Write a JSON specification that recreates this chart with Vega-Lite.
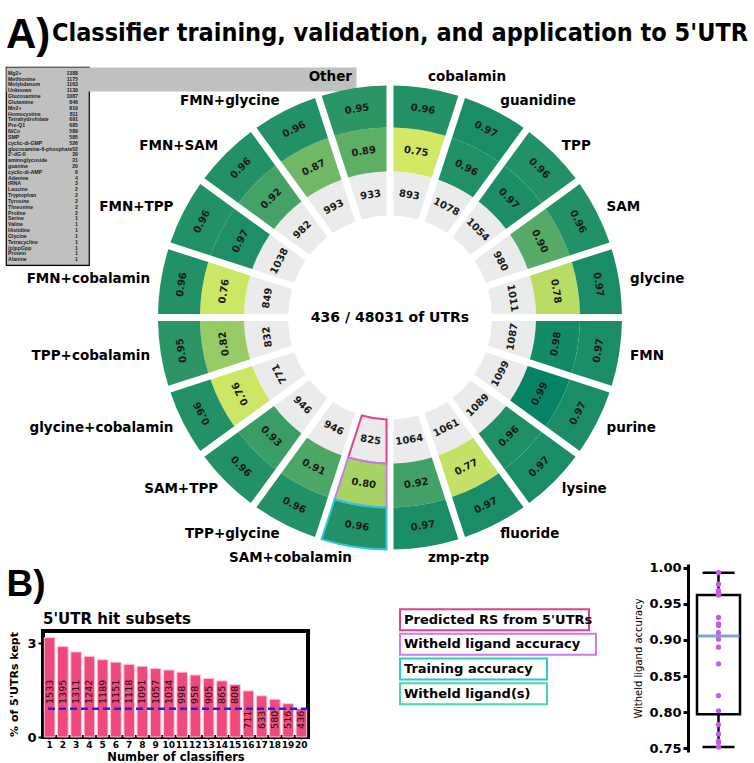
{
  "$schema": "https://vega.github.io/schema/vega-lite/v6.json",
  "padding": {"left": 5, "top": 13, "right": 5, "bottom": 5},
  "spacing": -7,
  "align": "none",
  "config": {
    "view": {"stroke": null},
    "font": "DejaVu Sans",
    "axis": {"labelColor": "black", "titleColor": "black", "tickColor": "black", "domainColor": "black"},
    "axisY": {"labelOverlap": false}
  },
  "datasets": {
    "rs": [
      {"i": 0, "name": "cobalamin", "train": 0.96, "held": 0.752, "rs": 893},
      {"i": 1, "name": "guanidine", "train": 0.97, "held": 0.962, "rs": 1078},
      {"i": 2, "name": "TPP", "train": 0.96, "held": 0.968, "rs": 1054},
      {"i": 3, "name": "SAM", "train": 0.96, "held": 0.901, "rs": 980},
      {"i": 4, "name": "glycine", "train": 0.97, "held": 0.783, "rs": 1011},
      {"i": 5, "name": "FMN", "train": 0.97, "held": 0.977, "rs": 1087},
      {"i": 6, "name": "purine", "train": 0.97, "held": 0.993, "rs": 1099},
      {"i": 7, "name": "lysine", "train": 0.97, "held": 0.963, "rs": 1089},
      {"i": 8, "name": "fluoride", "train": 0.97, "held": 0.770, "rs": 1061},
      {"i": 9, "name": "zmp-ztp", "train": 0.97, "held": 0.922, "rs": 1064},
      {"i": 10, "name": "SAM+cobalamin", "train": 0.96, "held": 0.802, "rs": 825},
      {"i": 11, "name": "TPP+glycine", "train": 0.96, "held": 0.910, "rs": 946},
      {"i": 12, "name": "SAM+TPP", "train": 0.96, "held": 0.931, "rs": 946},
      {"i": 13, "name": "glycine+cobalamin", "train": 0.96, "held": 0.758, "rs": 771},
      {"i": 14, "name": "TPP+cobalamin", "train": 0.95, "held": 0.823, "rs": 832},
      {"i": 15, "name": "FMN+cobalamin", "train": 0.96, "held": 0.760, "rs": 849},
      {"i": 16, "name": "FMN+TPP", "train": 0.96, "held": 0.966, "rs": 1038},
      {"i": 17, "name": "FMN+SAM", "train": 0.96, "held": 0.920, "rs": 982},
      {"i": 18, "name": "FMN+glycine", "train": 0.96, "held": 0.867, "rs": 993},
      {"i": 19, "name": "Other", "train": 0.95, "held": 0.890, "rs": 933}
    ],
    "other": [
      {"name": "Mg2+", "n": 1388}, {"name": "Methionine", "n": 1175}, {"name": "Molybdenum", "n": 1163},
      {"name": "Unknown", "n": 1130}, {"name": "Glucosamine", "n": 1087}, {"name": "Glutamine", "n": 846},
      {"name": "Mn2+", "n": 819}, {"name": "Homocystine", "n": 811}, {"name": "Tetrahydrofolate", "n": 691},
      {"name": "Pre-Q1", "n": 685}, {"name": "NiCo", "n": 589}, {"name": "SMP", "n": 585},
      {"name": "cyclic-di-GMP", "n": 526}, {"name": "glucosamine-6-phosphate", "n": 52}, {"name": "2'-dG-II", "n": 30},
      {"name": "aminoglycoside", "n": 21}, {"name": "guanine", "n": 20}, {"name": "cyclic-di-AMP", "n": 6},
      {"name": "Adenine", "n": 4}, {"name": "tRNA", "n": 3}, {"name": "Leucine", "n": 2},
      {"name": "Tryptophan", "n": 2}, {"name": "Tyrosine", "n": 2}, {"name": "Threonine", "n": 2},
      {"name": "Proline", "n": 2}, {"name": "Serine", "n": 1}, {"name": "Valine", "n": 1},
      {"name": "Histidine", "n": 1}, {"name": "Glycine", "n": 1}, {"name": "Tetracycline", "n": 1},
      {"name": "(p)ppGpp", "n": 1}, {"name": "Protein", "n": 1}, {"name": "Alanine", "n": 1}
    ],
    "hits": [
      {"k": 1, "pct": 3.19, "count": 1533}, {"k": 2, "pct": 2.90, "count": 1395}, {"k": 3, "pct": 2.73, "count": 1311},
      {"k": 4, "pct": 2.59, "count": 1242}, {"k": 5, "pct": 2.48, "count": 1189}, {"k": 6, "pct": 2.40, "count": 1151},
      {"k": 7, "pct": 2.33, "count": 1118}, {"k": 8, "pct": 2.27, "count": 1091}, {"k": 9, "pct": 2.20, "count": 1057},
      {"k": 10, "pct": 2.15, "count": 1034}, {"k": 11, "pct": 2.08, "count": 998}, {"k": 12, "pct": 1.99, "count": 958},
      {"k": 13, "pct": 1.88, "count": 905}, {"k": 14, "pct": 1.80, "count": 865}, {"k": 15, "pct": 1.68, "count": 808},
      {"k": 16, "pct": 1.48, "count": 711}, {"k": 17, "pct": 1.32, "count": 633}, {"k": 18, "pct": 1.21, "count": 580},
      {"k": 19, "pct": 1.07, "count": 516}, {"k": 20, "pct": 0.91, "count": 436}
    ],
    "legend": [
      {"label": "Predicted RS from 5'UTRs"},
      {"label": "Witheld ligand accuracy"},
      {"label": "Training accuracy"},
      {"label": "Witheld ligand(s)"}
    ],
    "summary": [{"label": "436 / 48031 of UTRs"}],
    "panelB": [{"label": "B)"}]
  },
  "vconcat": [
    {
      "bounds": "flush",
      "spacing": 0,
      "hconcat": [
        {
          "data": {"name": "other"},
          "width": 83,
          "height": 198,
          "view": {"fill": "#c0c0c0", "stroke": "black", "strokeWidth": 1.2},
          "title": {"text": "A)", "anchor": "start", "frame": "group", "fontSize": 42, "font": "Liberation Sans", "fontWeight": "bold", "baseline": "alphabetic", "offset": 22, "dy": 45, "color": "black"},
          "layer": [
            {
              "mark": {"type": "text", "text": ""},
              "encoding": {
                "x": {"datum": 0, "type": "quantitative", "scale": {"domain": [0, 1], "range": [0, 350]},
                  "axis": {"orient": "top", "offset": -12, "domainWidth": 24, "domainColor": "#c0c0c0", "domainCap": "butt", "ticks": false, "labels": false, "grid": false, "title": null}}
              }
            },
            {
              "mark": {"type": "text", "align": "left", "baseline": "middle", "dx": -39.5, "fontSize": 5.2, "font": "Liberation Sans", "fontWeight": "bold", "color": "#222"},
              "encoding": {
                "y": {"field": "name", "type": "nominal", "sort": null, "axis": null, "scale": {"type": "point", "padding": 1}},
                "text": {"field": "name"}
              }
            },
            {
              "mark": {"type": "text", "align": "right", "baseline": "middle", "dx": 30.5, "fontSize": 5.2, "font": "Liberation Sans", "fontWeight": "bold", "color": "#222"},
              "encoding": {
                "y": {"field": "name", "type": "nominal", "sort": null, "axis": null, "scale": {"type": "point", "padding": 1}},
                "text": {"field": "n"}
              }
            }
          ]
        },
        {
          "data": {"name": "rs"},
          "width": 602,
          "height": 501,
          "title": {"text": "Classifier training, validation, and application to 5'UTR", "anchor": "middle", "frame": "group", "fontSize": 25, "font": "Liberation Sans Narrow, DejaVu Sans Condensed, Liberation Sans", "fontWeight": "bold", "baseline": "alphabetic", "offset": 1, "dx": 10, "color": "black"},
          "resolve": {"scale": {"angle": "independent"}},
          "layer": [
            {
              "mark": {"type": "arc", "radius": 146, "radius2": 102, "padAngle": 0.0393, "fill": "#ebebeb"},
              "encoding": {
                "theta": {"aggregate": "count", "type": "quantitative", "stack": true},
                "order": {"field": "i", "type": "quantitative"},
                "detail": [{"field": "name", "type": "nominal"}, {"field": "rs", "type": "quantitative"}, {"field": "held", "type": "quantitative"}, {"field": "train", "type": "quantitative"}]
              }
            },
            {
              "mark": {"type": "arc", "radius": 190, "radius2": 146, "padAngle": 0.0292},
              "encoding": {
                "theta": {"aggregate": "count", "type": "quantitative", "stack": true},
                "order": {"field": "i", "type": "quantitative"},
                "detail": [{"field": "name", "type": "nominal"}, {"field": "rs", "type": "quantitative"}, {"field": "train", "type": "quantitative"}],
                "color": {"field": "held", "type": "quantitative", "scale": {"domain": [0.7, 1.0], "range": ["#ffff66", "#008066"], "interpolate": "rgb"}, "legend": null}
              }
            },
            {
              "mark": {"type": "arc", "radius": 232, "radius2": 190, "padAngle": 0.0233},
              "encoding": {
                "theta": {"aggregate": "count", "type": "quantitative", "stack": true},
                "order": {"field": "i", "type": "quantitative"},
                "detail": [{"field": "name", "type": "nominal"}, {"field": "rs", "type": "quantitative"}, {"field": "held", "type": "quantitative"}],
                "color": {"field": "train", "type": "quantitative", "scale": {"domain": [0.7, 1.0], "range": ["#ffff66", "#008066"], "interpolate": "rgb"}, "legend": null}
              }
            },
            {
              "mark": {"type": "arc", "radius": 146, "radius2": 102, "padAngle": 0.0393, "fillOpacity": 0, "stroke": "#e8418a", "strokeWidth": 2},
              "encoding": {
                "theta": {"aggregate": "count", "type": "quantitative", "stack": true},
                "order": {"field": "i", "type": "quantitative"},
                "detail": [{"field": "name", "type": "nominal"}],
                "strokeOpacity": {"condition": {"test": "datum.i === 10", "value": 1}, "value": 0}
              }
            },
            {
              "mark": {"type": "arc", "radius": 190, "radius2": 146, "padAngle": 0.0292, "fillOpacity": 0, "stroke": "#c77de8", "strokeWidth": 2},
              "encoding": {
                "theta": {"aggregate": "count", "type": "quantitative", "stack": true},
                "order": {"field": "i", "type": "quantitative"},
                "detail": [{"field": "name", "type": "nominal"}],
                "strokeOpacity": {"condition": {"test": "datum.i === 10", "value": 1}, "value": 0}
              }
            },
            {
              "mark": {"type": "arc", "radius": 232, "radius2": 190, "padAngle": 0.0233, "fillOpacity": 0, "stroke": "#2ec9da", "strokeWidth": 2},
              "encoding": {
                "theta": {"aggregate": "count", "type": "quantitative", "stack": true},
                "order": {"field": "i", "type": "quantitative"},
                "detail": [{"field": "name", "type": "nominal"}],
                "strokeOpacity": {"condition": {"test": "datum.i === 10", "value": 1}, "value": 0}
              }
            },
            {
              "mark": {"type": "text", "radius": 124, "fontSize": 10, "fontWeight": "bold", "color": "#1a1a1a", "baseline": "middle", "align": "center"},
              "encoding": {
                "theta": {"aggregate": "count", "type": "quantitative", "stack": true},
                "order": {"field": "i", "type": "quantitative"},
                "detail": [{"field": "name", "type": "nominal"}, {"field": "rs", "type": "quantitative"}],
                "angle": {"field": "i", "type": "quantitative", "scale": {"domain": [-0.5, 19.5], "range": [0, 360]}, "legend": null},
                "text": {"condition": {"test": "datum.i < 5 || datum.i > 12", "field": "rs", "type": "quantitative"}, "value": ""}
              }
            },
            {
              "mark": {"type": "text", "radius": 124, "fontSize": 10, "fontWeight": "bold", "color": "#1a1a1a", "baseline": "middle", "align": "center"},
              "encoding": {
                "theta": {"aggregate": "count", "type": "quantitative", "stack": true},
                "order": {"field": "i", "type": "quantitative"},
                "detail": [{"field": "name", "type": "nominal"}, {"field": "rs", "type": "quantitative"}],
                "angle": {"field": "i", "type": "quantitative", "scale": {"domain": [-0.5, 19.5], "range": [-180, 180]}, "legend": null},
                "text": {"condition": {"test": "datum.i >= 5 && datum.i <= 12", "field": "rs", "type": "quantitative"}, "value": ""}
              }
            },
            {
              "mark": {"type": "text", "radius": 168, "fontSize": 10, "fontWeight": "bold", "color": "#1a1a1a", "baseline": "middle", "align": "center"},
              "encoding": {
                "theta": {"aggregate": "count", "type": "quantitative", "stack": true},
                "order": {"field": "i", "type": "quantitative"},
                "detail": [{"field": "name", "type": "nominal"}, {"field": "held", "type": "quantitative"}],
                "angle": {"field": "i", "type": "quantitative", "scale": {"domain": [-0.5, 19.5], "range": [0, 360]}, "legend": null},
                "text": {"condition": {"test": "datum.i < 5 || datum.i > 12", "field": "held", "type": "quantitative", "format": ".2f"}, "value": ""}
              }
            },
            {
              "mark": {"type": "text", "radius": 168, "fontSize": 10, "fontWeight": "bold", "color": "#1a1a1a", "baseline": "middle", "align": "center"},
              "encoding": {
                "theta": {"aggregate": "count", "type": "quantitative", "stack": true},
                "order": {"field": "i", "type": "quantitative"},
                "detail": [{"field": "name", "type": "nominal"}, {"field": "held", "type": "quantitative"}],
                "angle": {"field": "i", "type": "quantitative", "scale": {"domain": [-0.5, 19.5], "range": [-180, 180]}, "legend": null},
                "text": {"condition": {"test": "datum.i >= 5 && datum.i <= 12", "field": "held", "type": "quantitative", "format": ".2f"}, "value": ""}
              }
            },
            {
              "mark": {"type": "text", "radius": 211, "fontSize": 10, "fontWeight": "bold", "color": "#1a1a1a", "baseline": "middle", "align": "center"},
              "encoding": {
                "theta": {"aggregate": "count", "type": "quantitative", "stack": true},
                "order": {"field": "i", "type": "quantitative"},
                "detail": [{"field": "name", "type": "nominal"}, {"field": "train", "type": "quantitative"}],
                "angle": {"field": "i", "type": "quantitative", "scale": {"domain": [-0.5, 19.5], "range": [0, 360]}, "legend": null},
                "text": {"condition": {"test": "datum.i < 5 || datum.i > 12", "field": "train", "type": "quantitative", "format": ".2f"}, "value": ""}
              }
            },
            {
              "mark": {"type": "text", "radius": 211, "fontSize": 10, "fontWeight": "bold", "color": "#1a1a1a", "baseline": "middle", "align": "center"},
              "encoding": {
                "theta": {"aggregate": "count", "type": "quantitative", "stack": true},
                "order": {"field": "i", "type": "quantitative"},
                "detail": [{"field": "name", "type": "nominal"}, {"field": "train", "type": "quantitative"}],
                "angle": {"field": "i", "type": "quantitative", "scale": {"domain": [-0.5, 19.5], "range": [-180, 180]}, "legend": null},
                "text": {"condition": {"test": "datum.i >= 5 && datum.i <= 12", "field": "train", "type": "quantitative", "format": ".2f"}, "value": ""}
              }
            },
            {
              "mark": {"type": "text", "radius": 243, "fontSize": 13.5, "fontWeight": "bold", "color": "black", "baseline": "middle", "align": "left"},
              "encoding": {
                "theta": {"aggregate": "count", "type": "quantitative", "stack": true},
                "order": {"field": "i", "type": "quantitative"},
                "detail": [{"field": "name", "type": "nominal"}],
                "text": {"condition": {"test": "datum.i < 10", "field": "name", "type": "nominal"}, "value": ""}
              }
            },
            {
              "mark": {"type": "text", "radius": 243, "fontSize": 13.5, "fontWeight": "bold", "color": "black", "baseline": "middle", "align": "right"},
              "encoding": {
                "theta": {"aggregate": "count", "type": "quantitative", "stack": true},
                "order": {"field": "i", "type": "quantitative"},
                "detail": [{"field": "name", "type": "nominal"}],
                "text": {"condition": {"test": "datum.i >= 10", "field": "name", "type": "nominal"}, "value": ""}
              }
            },
            {
              "data": {"name": "summary"},
              "mark": {"type": "text", "fontSize": 14, "fontWeight": "bold", "color": "black", "baseline": "middle", "align": "center"},
              "encoding": {"text": {"field": "label"}}
            }
          ]
        }
      ]
    },
    {
      "spacing": 33,
      "hconcat": [
        {
          "spacing": 4,
          "vconcat": [
            {
              "data": {"name": "panelB"},
              "width": 1,
              "height": 42,
              "mark": {"type": "text", "align": "left", "baseline": "middle", "fontSize": 37, "font": "Liberation Sans", "fontWeight": "bold", "color": "black"},
              "encoding": {"text": {"field": "label"}}
            },
            {
              "spacing": -1,
              "hconcat": [
                {
                  "data": {"name": "panelB"},
                  "width": 1,
                  "height": 1,
                  "mark": {"type": "text", "text": ""}
                },
                {
                  "data": {"name": "hits"},
                  "width": 265,
                  "height": 106,
                  "view": {"stroke": "black", "strokeWidth": 4},
                  "title": {"text": "5'UTR hit subsets", "anchor": "start", "frame": "group", "fontSize": 15, "fontWeight": "bold", "color": "black", "offset": 4},
                  "layer": [
                    {
                      "mark": {"type": "bar", "color": "#ef4a7b", "stroke": "#ffc9d6", "strokeWidth": 1},
                      "encoding": {
                        "x": {"field": "k", "type": "ordinal", "scale": {"paddingInner": 0.2, "paddingOuter": 0.1},
                          "axis": {"title": "Number of classifiers", "labelAngle": 0, "labelFontSize": 9, "labelFontWeight": "bold", "titleFontSize": 11.5, "titleFontWeight": "bold", "domain": false, "tickSize": 2, "tickWidth": 1.5, "labelPadding": 1, "titlePadding": 2}},
                        "y": {"field": "pct", "type": "quantitative", "scale": {"domain": [0, 3.4], "nice": false},
                          "axis": {"values": [0, 1, 2, 3], "labelOverlap": false, "title": "% of 5'UTRs kept", "labelFontSize": 13, "labelFontWeight": "bold", "titleFontSize": 11, "titleFontWeight": "bold", "domain": false, "grid": false, "tickSize": 5, "tickWidth": 2, "labelPadding": 2, "titlePadding": 7}}
                      }
                    },
                    {
                      "mark": {"type": "rule", "color": "#1428e6", "strokeDash": [7, 4], "strokeWidth": 2.5},
                      "encoding": {"y": {"aggregate": "min", "field": "pct", "type": "quantitative"}}
                    },
                    {
                      "transform": [{"filter": "datum.pct >= 1.6"}],
                      "mark": {"type": "text", "angle": 270, "align": "left", "baseline": "middle", "fontSize": 9.5, "color": "#111"},
                      "encoding": {
                        "x": {"field": "k", "type": "ordinal"},
                        "y": {"datum": 1.06},
                        "text": {"field": "count"}
                      }
                    },
                    {
                      "transform": [{"filter": "datum.pct < 1.6"}],
                      "mark": {"type": "text", "angle": 270, "align": "left", "baseline": "middle", "fontSize": 9.5, "color": "#111"},
                      "encoding": {
                        "x": {"field": "k", "type": "ordinal"},
                        "y": {"datum": 0.26},
                        "text": {"field": "count"}
                      }
                    }
                  ]
                }
              ]
            }
          ]
        },
        {
          "data": {"name": "legend"},
          "width": 110,
          "height": 136,
          "view": {"fill": "transparent"},
          "layer": [
            {
              "mark": {"type": "point", "filled": true, "fill": "white", "size": 10000, "strokeWidth": 2, "opacity": 1},
              "encoding": {
                "y": {"field": "label", "type": "nominal", "axis": null, "scale": {"type": "point", "padding": 0.25, "domain": ["~a", "~b", "Predicted RS from 5'UTRs", "Witheld ligand accuracy", "Training accuracy", "Witheld ligand(s)"]}},
                "shape": {"field": "label", "type": "nominal", "legend": null,
                  "scale": {"domain": ["Predicted RS from 5'UTRs", "Witheld ligand accuracy", "Training accuracy", "Witheld ligand(s)"],
                    "range": ["M0,-0.21H3.78V0.21H0Z", "M0,-0.21H3.92V0.21H0Z", "M0,-0.21H2.94V0.21H0Z", "M0,-0.21H2.94V0.21H0Z"]}},
                "stroke": {"field": "label", "type": "nominal", "legend": null,
                  "scale": {"domain": ["Predicted RS from 5'UTRs", "Witheld ligand accuracy", "Training accuracy", "Witheld ligand(s)"],
                    "range": ["#e2408a", "#c97ee6", "#2dc6d8", "#4cd6a4"]}}
              }
            },
            {
              "mark": {"type": "text", "align": "left", "baseline": "middle", "dx": 4, "fontSize": 13, "fontWeight": "bold", "color": "black"},
              "encoding": {
                "y": {"field": "label", "type": "nominal", "axis": null},
                "text": {"field": "label"}
              }
            }
          ]
        },
        {
          "data": {"name": "rs"},
          "width": 61,
          "height": 188,
          "layer": [
            {
              "mark": {"type": "boxplot", "extent": "min-max", "size": 43,
                "box": {"color": "white", "stroke": "black", "strokeWidth": 2.5},
                "median": {"color": "#4a7fc0", "thickness": 3},
                "rule": {"color": "black", "strokeWidth": 2.5},
                "ticks": {"color": "black", "thickness": 2.5, "size": 32}},
              "encoding": {
                "y": {"field": "held", "type": "quantitative", "scale": {"domain": [0.745, 1.005], "nice": false, "zero": false},
                  "axis": {"values": [0.75, 0.8, 0.85, 0.9, 0.95, 1.0], "tickCount": 6, "format": ".2f", "labelOverlap": false, "labelFontSize": 13, "labelFontWeight": "bold", "domainWidth": 3, "tickWidth": 3, "tickSize": 5, "grid": false, "title": "Witheld ligand accuracy", "titleFontSize": 10, "titleFontWeight": "normal", "titlePadding": 5}}
              }
            },
            {
              "mark": {"type": "circle", "size": 28, "color": "#c35fe3", "opacity": 1},
              "encoding": {
                "y": {"field": "held", "type": "quantitative", "scale": {"domain": [0.745, 1.005], "nice": false, "zero": false}}
              }
            }
          ]
        }
      ]
    }
  ]
}
